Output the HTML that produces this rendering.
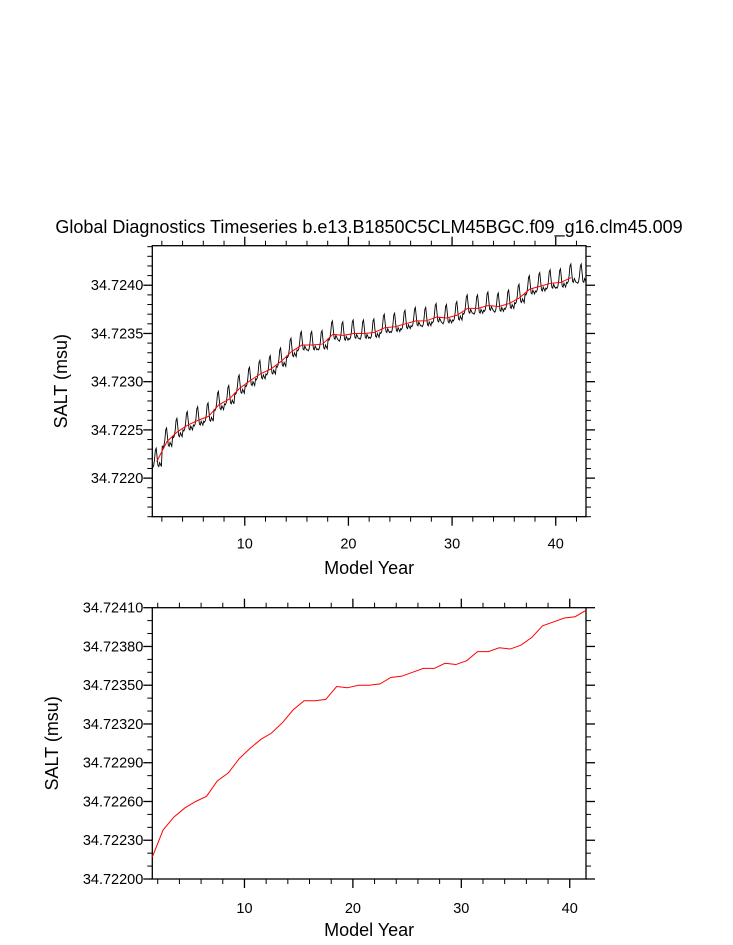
<!DOCTYPE html>
<html><head><meta charset="utf-8"><style>
html,body{margin:0;padding:0;background:#fff;}
svg{display:block;font-family:"Liberation Sans",sans-serif;}
</style></head><body>
<svg id="c" width="733" height="945" viewBox="0 0 733 945">
<text x="369" y="233" font-size="18" text-anchor="middle">Global Diagnostics Timeseries b.e13.B1850C5CLM45BGC.f09_g16.clm45.009</text>
<g id="top"></g>
<g id="bot"></g>
</svg>
<script>
// annual mean SALT (msu), years 1.5 .. 41.5
const annualYears = [1.5,2.5,3.5,4.5,5.5,6.5,7.5,8.5,9.5,10.5,11.5,12.5,13.5,14.5,15.5,16.5,17.5,18.5,19.5,20.5,21.5,22.5,23.5,24.5,25.5,26.5,27.5,28.5,29.5,30.5,31.5,32.5,33.5,34.5,35.5,36.5,37.5,38.5,39.5,40.5,41.5];
const annualSalt = [34.72217,34.72238,34.72248,34.72255,34.72260,34.72264,34.72276,34.72282,34.72293,34.72301,34.72308,34.72313,34.72321,34.72331,34.72338,34.72338,34.72339,34.72349,34.72348,34.72350,34.72350,34.72351,34.72356,34.72357,34.72360,34.72363,34.72363,34.72367,34.72366,34.72369,34.72376,34.72376,34.72379,34.72378,34.72381,34.72387,34.72396,34.72399,34.72402,34.72403,34.72408];
// seasonal anomaly by month (msu)
const seasonalAnom = [-0.00005,-0.00006,-0.00004,0.00002,0.00012,0.00014,0.00005,-0.00004,-0.00005,-0.00001,-0.00003,-0.00005];
const topYTicks = [34.7220,34.7225,34.7230,34.7235,34.7240];
const topYLabels = ["34.7220","34.7225","34.7230","34.7235","34.7240"];
const botYTicks = [34.72200,34.72230,34.72260,34.72290,34.72320,34.72350,34.72380,34.72410];
const botYLabels = ["34.72200","34.72230","34.72260","34.72290","34.72320","34.72350","34.72380","34.72410"];
const xTicks = [10,20,30,40];

const NS="http://www.w3.org/2000/svg";
function mk(p,t,a){const e=document.createElementNS(NS,t);for(const k in a)e.setAttribute(k,a[k]);p.appendChild(e);return e;}

function panel(g,L,R,T,B,x0,x1,y0,y1,yT,yLab,yMinorStep,ylabX,xlabY,xtOff){
  const sx=v=>L+(v-x0)/(x1-x0)*(R-L);
  const sy=v=>B-(v-y0)/(y1-y0)*(B-T);
  for(let v=Math.ceil(x0/2)*2;v<=x1;v+=2){
    const x=sx(v);const maj=v%10===0;const len=maj?9:5;
    let t=mk(g,'line',{x1:x,x2:x,y1:B,y2:B+len,stroke:'#000','stroke-width':maj?1.3:1});
    
    
    t=mk(g,'line',{x1:x,x2:x,y1:T,y2:T-len,stroke:'#000','stroke-width':maj?1.3:1});
    
    
  }
  xTicks.forEach(v=>{
    const t=mk(g,'text',{x:sx(v),y:B+xtOff,'font-size':14.5,'text-anchor':'middle'});t.textContent=v;
    
    
  });
  const start=Math.ceil(y0/yMinorStep-1e-6);
  for(let k=start;k*yMinorStep<=y1+1e-9;k++){
    const v=k*yMinorStep;const y=sy(v);
    const maj=yT.some(m=>Math.abs(m-v)<yMinorStep/10);const len=maj?9:5;
    let t=mk(g,'line',{x1:L,x2:L-len,y1:y,y2:y,stroke:'#000','stroke-width':maj?1.3:1});
    
    
    t=mk(g,'line',{x1:R,x2:R+len,y1:y,y2:y,stroke:'#000','stroke-width':maj?1.3:1});
    
    
  }
  yT.forEach((v,i)=>{
    const t=mk(g,'text',{x:L-9,y:sy(v)+5,'font-size':14.5,'text-anchor':'end'});t.textContent=yLab[i];
    
    
  });
  const f=mk(g,'rect',{x:L,y:T,width:R-L,height:B-T,fill:'none',stroke:'#000','stroke-width':1.3});
  
  
  let t=mk(g,'text',{x:(L+R)/2,y:xlabY,'font-size':18,'text-anchor':'middle'});t.textContent='Model Year';
  
  
  const cy=(T+B)/2;
  t=mk(g,'text',{x:ylabX,y:cy,'font-size':18,'text-anchor':'middle',transform:`rotate(-90 ${ylabX} ${cy})`});t.textContent='SALT (msu)';
  
  
  return {sx,sy};
}

const gt=document.getElementById('top');
const tp=panel(gt,152.3,586,245.7,516.7,1.08,42.92,34.72160,34.72441,topYTicks,topYLabels,0.0001,67,574,32);
let pts=[];
for(let m=0;m<504;m++){
  const yr=1+(m+0.5)/12;
  const yi=Math.min(Math.floor(m/12),annualSalt.length-1);
  const v=annualSalt[yi]+seasonalAnom[m%12];
  pts.push(tp.sx(yr).toFixed(2)+','+tp.sy(v).toFixed(2));
}
let pl=mk(gt,'polyline',{points:pts.join(' '),fill:'none',stroke:'#000','stroke-width':0.9});


pl=mk(gt,'polyline',{points:annualYears.map((y,i)=>tp.sx(y).toFixed(2)+','+tp.sy(annualSalt[i]).toFixed(2)).join(' '),fill:'none',stroke:'#f00','stroke-width':1});



const gb=document.getElementById('bot');
const bp=panel(gb,152.3,586,607.7,879,1.5,41.5,34.72200,34.72410,botYTicks,botYLabels,0.0001,58,936,34);
pl=mk(gb,'polyline',{points:annualYears.map((y,i)=>bp.sx(y).toFixed(2)+','+bp.sy(annualSalt[i]).toFixed(2)).join(' '),fill:'none',stroke:'#f00','stroke-width':1});


</script>
</body></html>
